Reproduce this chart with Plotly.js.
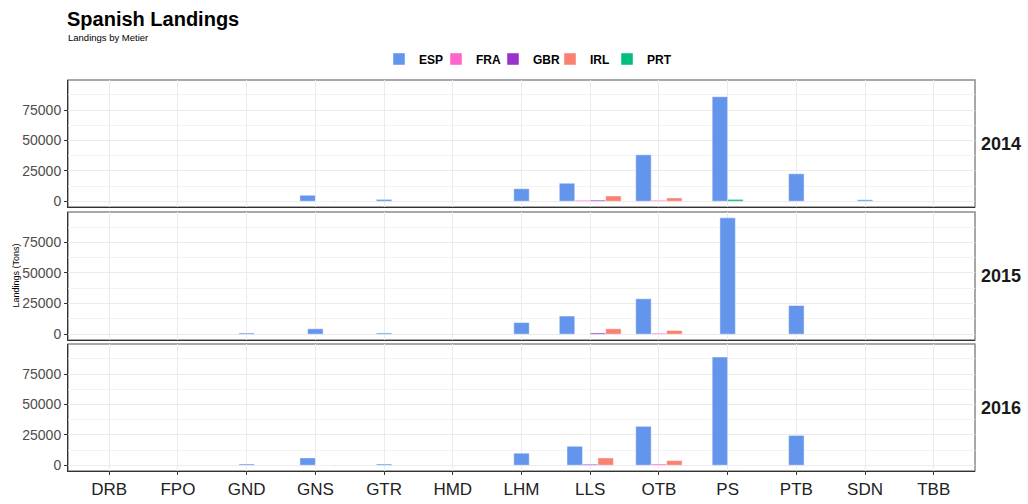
<!DOCTYPE html>
<html>
<head>
<meta charset="utf-8">
<script src="https://cdn.plot.ly/plotly-3.0.1.min.js"></script>
<style>html,body{margin:0;padding:0;background:#fff;}#chart{width:1028px;height:504px;}</style>
</head>
<body>
<div id="chart"></div>
<script>
// ---- data ----
const metiers = ['DRB','FPO','GND','GNS','GTR','HMD','LHM','LLS','OTB','PS','PTB','SDN','TBB'];
const countries = ['ESP','FRA','GBR','IRL','PRT'];
const years = ['2014','2015','2016'];
const yTicks = [0, 25000, 50000, 75000];

// 2014 landings (tons) by metier, null = none
const esp2014 = [null,null,null,4900,1500,null,10300,14800,38200,86000,22600,1200,null];
const fra2014 = [null,null,null,30,null,null,null,800,800,null,null,null,null];
const gbr2014 = [null,null,null,null,null,null,null,900,null,null,null,null,null];
const irl2014 = [null,null,null,null,null,null,null,4300,2700,null,null,null,null];
const prt2014 = [null,null,null,null,null,null,null,null,null,1500,null,null,null];

// 2015
const esp2015 = [null,null,1000,4400,1000,null,9500,14800,28900,95000,23400,null,null];
const fra2015 = [null,null,null,null,null,null,null,30,800,null,null,null,null];
const gbr2015 = [null,null,null,null,null,null,null,1000,null,null,null,null,null];
const irl2015 = [null,null,null,null,null,null,null,4400,3000,null,null,null,null];
const prt2015 = [null,null,null,null,null,null,null,null,null,null,null,null,null];

// 2016
const esp2016 = [null,null,1000,6000,1000,null,9900,15600,32000,89000,24500,null,null];
const fra2016 = [null,null,null,30,null,null,null,null,1000,null,null,null,null];
const gbr2016 = [null,null,null,null,null,null,null,800,null,null,null,null,null];
const irl2016 = [null,null,null,null,null,null,null,6000,3800,null,null,null,null];
const prt2016 = [null,null,null,null,null,null,null,null,null,30,null,null,null];

const series = {
  '2014': [esp2014, fra2014, gbr2014, irl2014, prt2014],
  '2015': [esp2015, fra2015, gbr2015, irl2015, prt2015],
  '2016': [esp2016, fra2016, gbr2016, irl2016, prt2016]
};

const colors = ['#6495ED','#FF66CC','#9932CC','#FA8072','#00BF7D'];

// ---- build ----
const W = 0.225; // bar width in category units (0.9 / max 4 per group)
const FONT = 'Liberation Sans, Arial, sans-serif';
const traces = [];
const shown = {};
years.forEach((yr, p) => {
  const vals = series[yr];
  countries.forEach((c, ci) => {
    const xs = [], ys = [], offs = [];
    metiers.forEach((m, mi) => {
      const v = vals[ci][mi];
      if (v === null) return;
      const present = countries.map((_, k) => k).filter(k => vals[k][mi] !== null);
      const idx = present.indexOf(ci);
      const n = present.length;
      xs.push(m); ys.push(v); offs.push((idx - n / 2) * W);
    });
    if (!xs.length) return;
    const ax = p === 0 ? '' : String(p + 1);
    traces.push({
      type: 'bar', name: c, x: xs, y: ys, offset: offs, width: W,
      xaxis: 'x' + ax, yaxis: 'y' + ax,
      marker: {color: colors[ci], line: {color: 'rgba(255,255,255,0.45)', width: 1}},
      legendgroup: c, showlegend: !shown[c], hoverinfo: 'x+y+name'
    });
    shown[c] = true;
  });
});
// empty trailing legend slot so the last entry's label is not clipped
traces.push({type: 'scatter', mode: 'markers', x: [null], y: [null], name: ' ',
  marker: {color: 'rgba(0,0,0,0)', size: 1}, showlegend: true, legendgroup: 'pad', hoverinfo: 'skip'});

const plotTop = 80, plotBot = 471, H = 504, plotH = plotBot - plotTop;
const panels = [[80, 207], [212, 340], [344, 471]];
const dom = panels.map(([t, b]) => [(plotBot - b) / plotH, (plotBot - t) / plotH]);
const yRange = [-4750, 99750];

const layout = {
  width: 1028, height: 504,
  margin: {l: 68, r: 53, t: plotTop, b: H - plotBot},
  paper_bgcolor: '#fff', plot_bgcolor: '#fff',
  barmode: 'overlay',
  font: {family: FONT, color: '#333'},
  title: {text: '<b>Spanish Landings</b>', x: 67 / 1028, xanchor: 'left', xref: 'container',
          y: 1 - 19 / 504, yanchor: 'middle', yref: 'container',
          font: {family: FONT, size: 20, color: '#000'}},
  showlegend: true,
  legend: {orientation: 'h', x: (395 - 68 - 16) / 907, xanchor: 'left', y: (plotBot - 59) / plotH, yanchor: 'middle',
           entrywidth: 12, entrywidthmode: 'pixels',
           font: {family: FONT, size: 12, color: '#000', weight: 'bold'}, traceorder: 'normal',
           itemclick: false},
  annotations: [
    {text: 'Landings by Metier', xref: 'paper', yref: 'paper', x: 0, xanchor: 'left', xshift: -2,
     y: (plotBot - 37) / plotH, yanchor: 'middle', showarrow: false,
     font: {family: FONT, size: 9.5, color: '#000'}},
    {text: 'Landings (Tons)', xref: 'paper', yref: 'paper', x: (15 - 68) / 907, xanchor: 'center',
     y: 0.5, yanchor: 'middle', textangle: -90, showarrow: false,
     font: {family: FONT, size: 9, color: '#000'}}
  ],
  shapes: []
};

years.forEach((yr, p) => {
  const ax = p === 0 ? '' : String(p + 1);
  layout['xaxis' + ax] = {
    type: 'category', categoryorder: 'array', categoryarray: metiers,
    range: [-0.6, metiers.length - 0.4], domain: [0, 1], anchor: 'y' + ax,
    showgrid: true, gridcolor: '#EBEBEB', gridwidth: 1,
    showline: true, linecolor: '#333', linewidth: 1,
    ticks: p === 2 ? 'outside' : '', ticklen: 3, tickcolor: '#333',
    showticklabels: p === 2, tickfont: {family: FONT, size: 17, color: '#222'},
    fixedrange: true
  };
  layout['yaxis' + ax] = {
    domain: dom[p], anchor: 'x' + ax, range: yRange,
    tickvals: yTicks, ticktext: yTicks.map(String),
    showgrid: true, gridcolor: '#EBEBEB', gridwidth: 1, zeroline: false,
    minor: {dtick: 12500, tick0: 0, showgrid: true, gridcolor: '#F3F3F3', gridwidth: 1},
    showline: true, linecolor: '#333', linewidth: 1,
    ticks: 'outside', ticklen: 3, tickcolor: '#333',
    tickfont: {family: FONT, size: 14, color: '#4D4D4D'}, fixedrange: true
  };
  layout.shapes.push({type: 'rect', xref: 'x' + ax + ' domain', yref: 'y' + ax + ' domain',
    x0: 0, x1: 1, y0: 0, y1: 1, line: {color: '#8C8C8C', width: 1.5}, layer: 'below'});
  layout.annotations.push({text: '<b>' + yr + '</b>', xref: 'paper', yref: 'paper',
    x: 1, xanchor: 'left', xshift: 4, y: (dom[p][0] + dom[p][1]) / 2, yanchor: 'middle',
    showarrow: false, font: {family: FONT, size: 18, color: '#1a1a1a'}});
});

Plotly.newPlot('chart', traces, layout, {displayModeBar: false, staticPlot: true});
</script>
</body>
</html>
